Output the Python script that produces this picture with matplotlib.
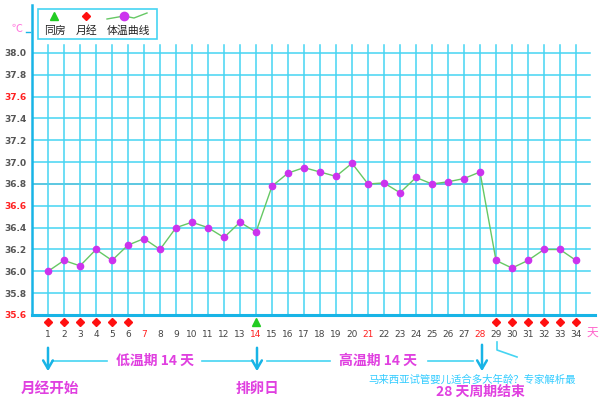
import matplotlib
matplotlib.use('Agg')
import matplotlib.pyplot as plt
from matplotlib.lines import Line2D
from matplotlib.patches import Rectangle

plt.rcParams['font.family'] = ['Noto Sans CJK SC', 'DejaVu Sans']

################# 1 data ################################
days = list(range(1, 35))
temps = [36.00, 36.10, 36.05, 36.20, 36.10, 36.24, 36.30, 36.20, 36.40, 36.45,
         36.40, 36.31, 36.45, 36.36, 36.78, 36.90, 36.95, 36.91, 36.87, 36.99,
         36.80, 36.81, 36.72, 36.86, 36.80, 36.82, 36.85, 36.91, 36.10, 36.03,
         36.10, 36.20, 36.20, 36.10]
period_days = [1, 2, 3, 4, 5, 6, 29, 30, 31, 32, 33, 34]
sex_days = [14]
red_days = [7, 14, 21, 28]
y_levels = [35.6, 35.8, 36.0, 36.2, 36.4, 36.6, 36.8, 37.0, 37.2, 37.4, 37.6, 37.8, 38.0]
red_levels = [35.6, 36.6, 37.6]

legend_labels = ['同房', '月经', '体温曲线']
phase_labels = ['低温期 14 天', '高温期 14 天']
event_labels = ['月经开始', '排卵日', '28 天周期结束']
watermark = '马来西亚试管婴儿适合多大年龄？专家解析最'

################# 2 canvas ################################
W, H = 600, 400
fig = plt.figure(figsize=(6, 4), dpi=100)
fig.patch.set_facecolor('white')


def fx(px):
    return px / W


def fy(py):
    return 1 - py / H


# axes: left spine at x=32px, bottom line at y=315px
ax = fig.add_axes([fx(32), fy(315), (W - 32) / W, (315 - 5) / H])
ax.set_xlim(0, 35.5)
ax.set_ylim(35.6, 35.6 + 310 / 109.17)
ax.patch.set_alpha(0)

grid_c = '#45d4f2'
axis_c = '#18b4e6'
pink = '#e040e0'

# grid
for lv in y_levels[1:]:
    ax.plot([0, 34.9], [lv, lv], color='#2fb8d8' if lv == 36.8 else grid_c,
            lw=1.1, zorder=1)
for d in days:
    ax.plot([d, d], [35.6, 38.07], color=grid_c, lw=1.1, zorder=1)

for s in ['top', 'right']:
    ax.spines[s].set_visible(False)
ax.spines['left'].set_color(axis_c)
ax.spines['left'].set_linewidth(1.8)
ax.spines['bottom'].set_color(axis_c)
ax.spines['bottom'].set_linewidth(2.2)
ax.spines['bottom'].set_bounds(0, 35.2)

# ticks
ax.set_yticks(y_levels)
ax.set_yticklabels(['%.1f' % v for v in y_levels], fontsize=6.5,
                   fontweight='bold', family=['DejaVu Sans'])
for lbl, v in zip(ax.get_yticklabels(), y_levels):
    lbl.set_color('#ff2020' if v in red_levels else '#555555')
ax.tick_params(axis='y', length=0, pad=4)

ax.set_xticks(days)
ax.set_xticklabels([str(d) for d in days], fontsize=6.5, family=['DejaVu Sans'])
for lbl, d in zip(ax.get_xticklabels(), days):
    lbl.set_color('#ff2020' if d in red_days else '#444444')
ax.tick_params(axis='x', length=0, pad=11)

################# 3 curve and markers ################################
ax.plot(days, temps, color='#66c864', lw=1.0, marker='o', ms=4.5,
        mfc='#cc33ee', mec='#cc33ee', zorder=3)

xt = ax.get_xaxis_transform()
ax.plot(period_days, [-0.023] * len(period_days), 'D', color='#ff1010',
        ms=4.5, transform=xt, clip_on=False)
ax.plot(sex_days, [-0.023] * len(sex_days), '^', color='#22cc22',
        ms=6, transform=xt, clip_on=False)

################# 4 legend ################################
fig.add_artist(Rectangle((fx(38), fy(39)), (157 - 38) / W, 30 / H,
                         transform=fig.transFigure, fill=False,
                         edgecolor=grid_c, lw=1.2))
fig.add_artist(Line2D([fx(54)], [fy(16)], marker='^', color='#22cc22', ms=6,
                      transform=fig.transFigure))
fig.add_artist(Line2D([fx(86)], [fy(16)], marker='D', color='#ff1010', ms=4.5,
                      transform=fig.transFigure))
fig.add_artist(Line2D([fx(107), fx(124), fx(134), fx(147)],
                      [fy(19), fy(16), fy(18), fy(13)], color='#66c864',
                      lw=1.0, transform=fig.transFigure))
fig.add_artist(Line2D([fx(124)], [fy(16)], marker='o', color='#cc33ee', ms=6,
                      transform=fig.transFigure))
for px, t in zip([55, 87, 128], legend_labels):
    fig.text(fx(px), fy(31), t, fontsize=7.8, ha='center', va='center',
             color='#222222')

fig.text(fx(17), fy(29), '℃', fontsize=8, color='#ff77dd', ha='center',
         va='center')
fig.add_artist(Line2D([fx(26), fx(30)], [fy(32), fy(32)], color=axis_c,
                      lw=1.0, transform=fig.transFigure))

fig.text(fx(592), fy(332), '天', fontsize=8.5, color='#ff66cc', ha='center',
         va='center')

################# 5 annotations below ################################
arrow_kw = dict(arrowstyle='->,head_width=0.35,head_length=0.6', color=axis_c,
                lw=1.8)
for x0, y0 in [(48, 345), (257, 345), (482, 342)]:
    fig.add_artist(plt.Annotation('', xy=(fx(x0), fy(374)),
                                  xytext=(fx(x0), fy(y0)),
                                  xycoords='figure fraction',
                                  textcoords='figure fraction',
                                  arrowprops=arrow_kw))

for xa, xb in [(52, 107), (202, 253), (267, 330), (428, 473)]:
    fig.add_artist(Line2D([fx(xa), fx(xb)], [fy(361), fy(361)],
                          color=grid_c, lw=1.2, transform=fig.transFigure))
for px, t in zip([155, 378], phase_labels):
    fig.text(fx(px), fy(361), t, fontsize=10, color=pink, fontweight='bold',
             ha='center', va='center')

# bracket at day 29
fig.add_artist(Line2D([fx(497), fx(497), fx(517)], [fy(342), fy(350), fy(357)],
                      color=grid_c, lw=1.2, transform=fig.transFigure))

for px, py, t, fs in zip([50, 258, 480], [388, 388, 392], event_labels,
                         [10.5, 10.5, 10]):
    fig.text(fx(px), fy(py), t, fontsize=fs, color=pink, fontweight='bold',
             ha='center', va='center')

fig.text(fx(472), fy(380), watermark, fontsize=7.5, color='#33ccff',
         ha='center', va='center')

################# 6 export ################################
fig.savefig('out.png', dpi=100)
